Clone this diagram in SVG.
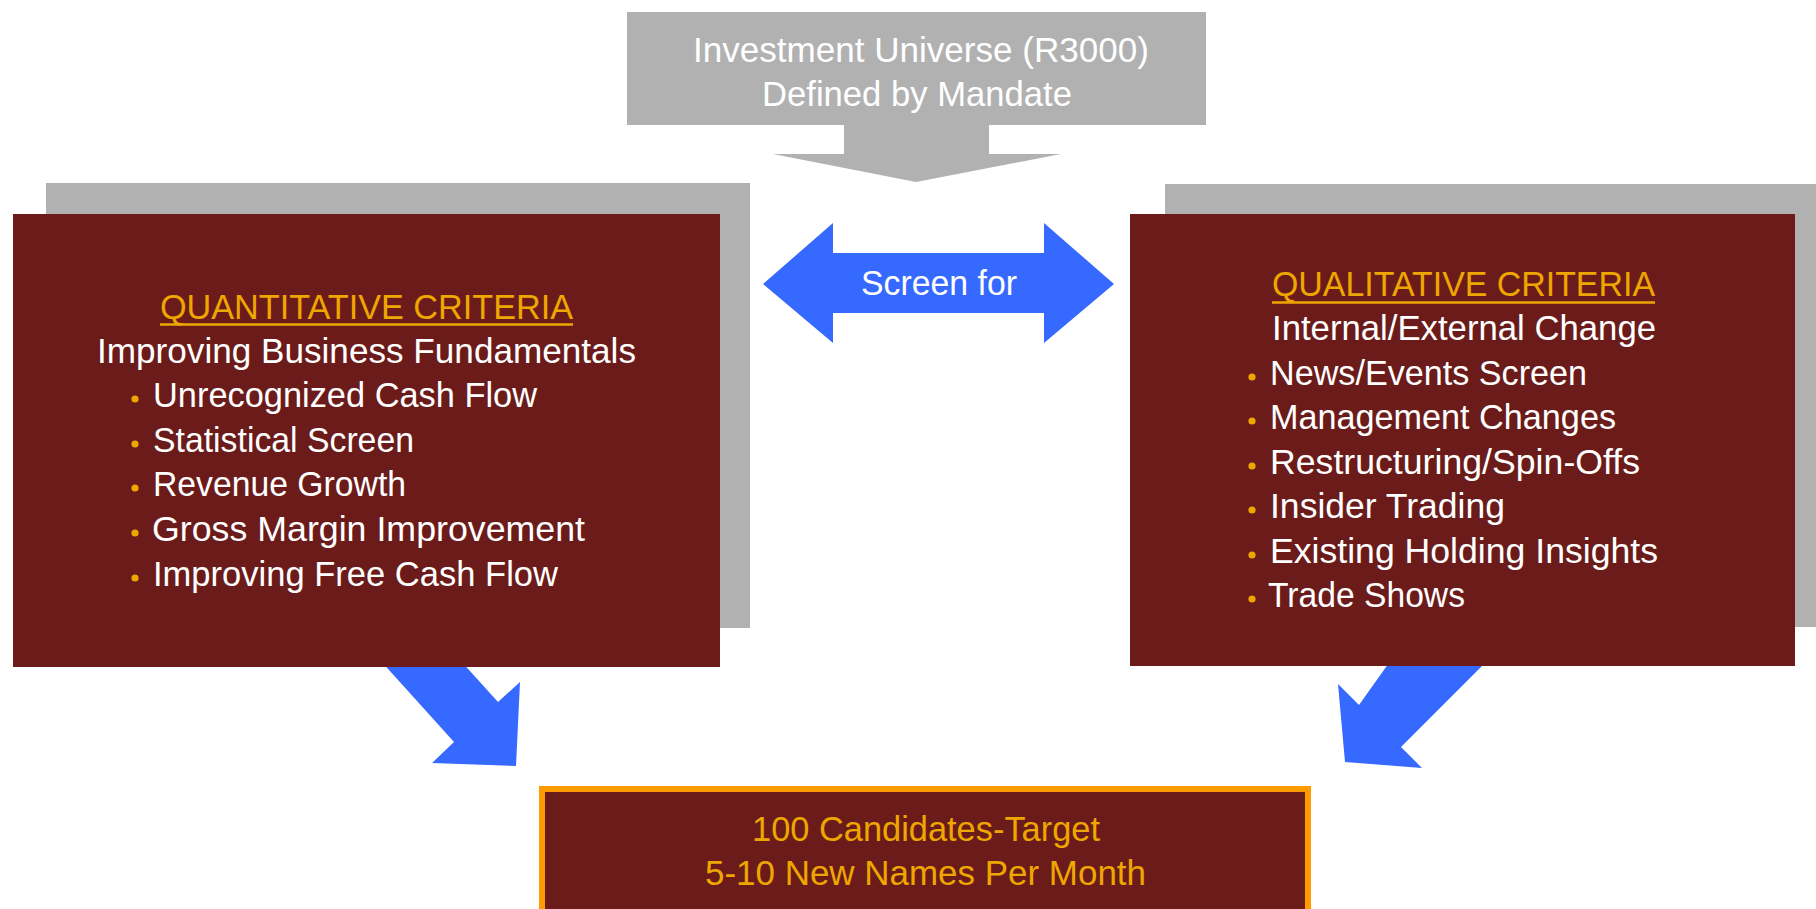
<svg xmlns="http://www.w3.org/2000/svg" width="1816" height="909" viewBox="0 0 1816 909">
<defs>
<style>
.t{font-family:"Liberation Sans",Arial,sans-serif;font-size:35px;fill:#ffffff}
.g{fill:#EEA600}
.c{text-anchor:middle}
.gray{fill:#B1B1B1}
.box{fill:#6B1C1A}
.blue{fill:#3669FF}
.dot{fill:#EEA600}
.ul{stroke:#EEA600;stroke-width:2.5}
</style>
</defs>
<rect width="1816" height="909" fill="#ffffff"/>
<g id="connectors">
<polygon class="blue" points="380,660 460,660 498,702 520,682 516,766 432,763 454,742"/>
<polygon class="blue" points="1391,660 1488,660 1401,747 1422,768 1345,762 1338,684 1359,705"/>
</g>
<g id="universe">
<polygon class="gray" points="627,12 1206,12 1206,125 989,125 989,154 1061,154 916,182 773,154 844,154 844,125 627,125"/>
<text class="t c" x="921" y="62" textLength="456" lengthAdjust="spacingAndGlyphs">Investment Universe (R3000)</text>
<text class="t c" x="917" y="106" textLength="310" lengthAdjust="spacingAndGlyphs">Defined by Mandate</text>
</g>
<g id="screen-for">
<polygon class="blue" points="763,284 833,223 833,253 1044,253 1044,223 1114,284 1044,343 1044,313 833,313 833,343"/>
<text class="t c" x="939" y="295" textLength="156" lengthAdjust="spacingAndGlyphs">Screen for</text>
</g>
<g id="quantitative">
<rect class="gray" x="46" y="183" width="704" height="445"/>
<rect class="box" x="13" y="214" width="707" height="453"/>
<text class="t g c" x="366.5" y="319" textLength="413" lengthAdjust="spacingAndGlyphs">QUANTITATIVE CRITERIA</text>
<line class="ul" x1="160" y1="324.5" x2="573" y2="324.5"/>
<text class="t c" x="366.5" y="363" textLength="539" lengthAdjust="spacingAndGlyphs">Improving Business Fundamentals</text>
<circle class="dot" cx="135" cy="399" r="3.6"/>
<text class="t" x="153" y="407" textLength="384" lengthAdjust="spacingAndGlyphs">Unrecognized Cash Flow</text>
<circle class="dot" cx="135" cy="444" r="3.6"/>
<text class="t" x="153" y="452" textLength="261" lengthAdjust="spacingAndGlyphs">Statistical Screen</text>
<circle class="dot" cx="135" cy="488" r="3.6"/>
<text class="t" x="153" y="496" textLength="253" lengthAdjust="spacingAndGlyphs">Revenue Growth</text>
<circle class="dot" cx="135" cy="533" r="3.6"/>
<text class="t" x="152" y="541" textLength="433" lengthAdjust="spacingAndGlyphs">Gross Margin Improvement</text>
<circle class="dot" cx="135" cy="578" r="3.6"/>
<text class="t" x="153" y="586" textLength="405" lengthAdjust="spacingAndGlyphs">Improving Free Cash Flow</text>
</g>
<g id="qualitative">
<rect class="gray" x="1165" y="184" width="651" height="443"/>
<rect class="box" x="1130" y="214" width="665" height="452"/>
<text class="t g c" x="1463.5" y="296" textLength="383" lengthAdjust="spacingAndGlyphs">QUALITATIVE CRITERIA</text>
<line class="ul" x1="1272" y1="302.5" x2="1655" y2="302.5"/>
<text class="t c" x="1464" y="340" textLength="384" lengthAdjust="spacingAndGlyphs">Internal/External Change</text>
<circle class="dot" cx="1252" cy="377" r="3.6"/>
<text class="t" x="1270" y="385" textLength="317" lengthAdjust="spacingAndGlyphs">News/Events Screen</text>
<circle class="dot" cx="1252" cy="421" r="3.6"/>
<text class="t" x="1270" y="429" textLength="346" lengthAdjust="spacingAndGlyphs">Management Changes</text>
<circle class="dot" cx="1252" cy="466" r="3.6"/>
<text class="t" x="1270" y="474" textLength="370" lengthAdjust="spacingAndGlyphs">Restructuring/Spin-Offs</text>
<circle class="dot" cx="1252" cy="510" r="3.6"/>
<text class="t" x="1270" y="518" textLength="235" lengthAdjust="spacingAndGlyphs">Insider Trading</text>
<circle class="dot" cx="1252" cy="555" r="3.6"/>
<text class="t" x="1270" y="563" textLength="388" lengthAdjust="spacingAndGlyphs">Existing Holding Insights</text>
<circle class="dot" cx="1252" cy="599" r="3.6"/>
<text class="t" x="1268" y="607" textLength="197" lengthAdjust="spacingAndGlyphs">Trade Shows</text>
</g>
<g id="candidates">
<rect x="542" y="789" width="766" height="140" fill="#6B1C1A" stroke="#FF9A00" stroke-width="6"/>
<text class="t g c" x="926" y="841" font-size="34" textLength="348" lengthAdjust="spacingAndGlyphs">100 Candidates-Target</text>
<text class="t g c" x="925.5" y="885" font-size="34" textLength="441" lengthAdjust="spacingAndGlyphs">5-10 New Names Per Month</text>
</g>
</svg>
